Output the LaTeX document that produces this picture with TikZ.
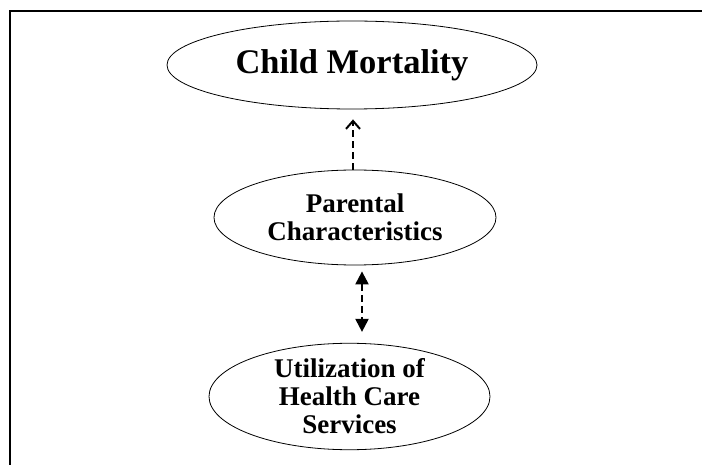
\documentclass[tikz,border=0pt]{standalone}
\usepackage{fontspec}
\setmainfont{Liberation Serif}
\usetikzlibrary{shapes.geometric,arrows.meta}
\begin{document}
\begin{tikzpicture}[x=1pt,y=-1pt,
  oval/.style={draw, ellipse, inner sep=0pt, line width=0.8pt, align=center, font=\bfseries\fontsize{27}{28}\selectfont},
  link/.style={line width=2.2pt, dash pattern=on 7pt off 4pt}
]
\useasboundingbox (0,0) rectangle (702,465);
\draw[line width=2pt] (10,465) -- (10,11) -- (702,11);
\node[oval, minimum width=370pt, minimum height=88pt, font=\bfseries\fontsize{34.5}{36}\selectfont] (child) at (352,65) {Child Mortality};
\node[oval, minimum width=282pt, minimum height=95pt] (par) at (355,217.5) {Parental\\Characteristics};
\node[oval, minimum width=281pt, minimum height=101pt] (util) at (349.5,396.5) {Utilization of\\Health Care\\Services};
\draw[link, -{Straight Barb[length=8pt,width=14pt,line width=2pt]}, shorten >=10pt]
  ([xshift=-2pt]par.north) -- ([xshift=-2pt]par.north |- child.south);
\draw[link, {Triangle[length=13pt,width=13pt]}-{Triangle[length=13pt,width=13pt]}, shorten <=6pt, shorten >=11pt]
  ([xshift=7pt]par.south) -- ([xshift=7pt]par.south |- util.north);
\end{tikzpicture}
\end{document}
